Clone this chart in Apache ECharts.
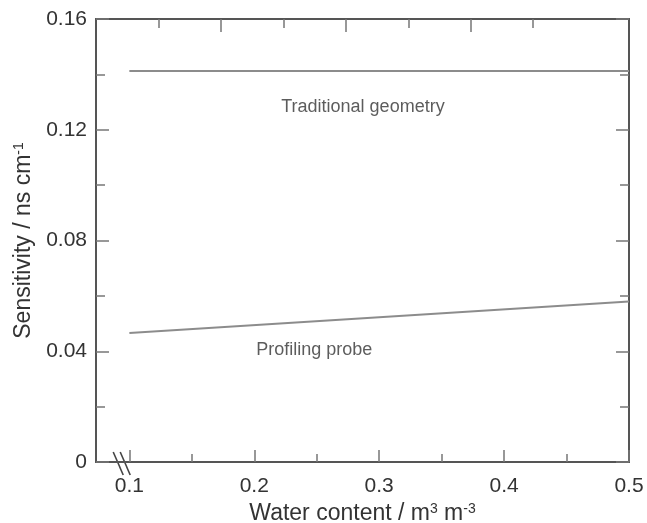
<!DOCTYPE html>
<html>
<head>
<meta charset="utf-8">
<script src="https://cdn.jsdelivr.net/npm/echarts@6/dist/echarts.min.js"></script>
<style>html,body{margin:0;padding:0;background:#fff;}#c{width:647px;height:523px;}</style>
</head>
<body>
<div id="c"></div>
<script>
// Data
const traditionalX = [0.1, 0.5];
const traditionalY = [0.1412, 0.1412];
const profilingX = [0.1, 0.5];
const profilingY = [0.0466, 0.0580];
const xMajorTicks = [0.1, 0.2, 0.3, 0.4, 0.5];
const xMinorTicks = [0.15, 0.25, 0.35, 0.45];
const topMajorTicks = [0.1, 0.2, 0.3];
const topMinorTicks = [0.05, 0.15, 0.25, 0.35];
const annotations = [
  {name: 'Traditional geometry', x: 0.287, y: 0.1282},
  {name: 'Profiling probe', x: 0.248, y: 0.0405}
];
const X_MIN = 0.0733, X_MAX = 0.5;

const chart = echarts.init(document.getElementById('c'), null, {renderer: 'canvas'});
const FONT = 'Liberation Sans, Arial, sans-serif';
const AX = '#555';
const TK = '#777';
const TXT = '#333';

function xAx(opts) {
  return Object.assign({
    type: 'value', min: X_MIN, max: X_MAX, position: 'bottom',
    axisLine: {show: true, onZero: false, lineStyle: {color: AX, width: 2}},
    splitLine: {show: false},
    axisLabel: {show: false},
    axisTick: {show: false}
  }, opts);
}

const option = {
  animation: false,
  backgroundColor: '#fff',
  grid: {left: 96, right: 18, top: 19, bottom: 61, containLabel: false, outerBoundsMode: 'none'},
  xAxis: [
    xAx({
      position: 'bottom',
      axisTick: {show: true, inside: true, length: 12, customValues: xMajorTicks, lineStyle: {color: TK, width: 1.5}},
      axisLabel: {show: true, customValues: xMajorTicks, fontSize: 21, color: TXT, fontFamily: FONT, margin: 14,
        formatter: v => String(+v.toFixed(2))},
      name: '{a|Water content / m}{s|3}{a| m}{s|-3}',
      nameLocation: 'middle', nameGap: 38,
      nameTextStyle: {rich: {
        a: {fontSize: 23, color: TXT, fontFamily: FONT},
        s: {fontSize: 14, color: TXT, fontFamily: FONT, verticalAlign: 'top', padding: [0,0,9,0]}
      }}
    }),
    xAx({
      position: 'bottom',
      axisTick: {show: true, inside: true, length: 8, customValues: xMinorTicks, lineStyle: {color: TK, width: 1.5}}
    }),
    xAx({
      position: 'top', min: 0, max: X_MAX - X_MIN,
      axisTick: {show: true, inside: true, length: 13, customValues: topMajorTicks, lineStyle: {color: TK, width: 1.5}}
    }),
    xAx({
      position: 'top', min: 0, max: X_MAX - X_MIN,
      axisTick: {show: true, inside: true, length: 9, customValues: topMinorTicks, lineStyle: {color: TK, width: 1.5}}
    })
  ],
  yAxis: [
    {
      type: 'value', min: 0, max: 0.16, interval: 0.04, position: 'left',
      axisLine: {show: true, onZero: false, lineStyle: {color: AX, width: 2}},
      axisTick: {show: true, inside: true, length: 13, lineStyle: {color: TK, width: 1.5}},
      minorTick: {show: true, splitNumber: 2, length: 9, lineStyle: {color: TK, width: 1.5}},
      splitLine: {show: false},
      axisLabel: {fontSize: 21, color: TXT, fontFamily: FONT, margin: 9,
        formatter: v => v === 0 ? '0' : v.toFixed(2)},
      name: '{a|Sensitivity / ns cm}{s|-1}',
      nameLocation: 'middle', nameGap: 60, nameRotate: 90,
      nameTextStyle: {rich: {
        a: {fontSize: 23, color: TXT, fontFamily: FONT},
        s: {fontSize: 14, color: TXT, fontFamily: FONT, verticalAlign: 'top', padding: [0,0,9,0]}
      }}
    },
    {
      type: 'value', min: 0, max: 0.16, interval: 0.04, position: 'right',
      axisLine: {show: true, onZero: false, lineStyle: {color: AX, width: 2}},
      axisTick: {show: true, inside: true, length: 13, lineStyle: {color: TK, width: 1.5}},
      minorTick: {show: true, splitNumber: 2, length: 9, lineStyle: {color: TK, width: 1.5}},
      splitLine: {show: false},
      axisLabel: {show: false}
    }
  ],
  series: [
    {
      type: 'line', name: 'Traditional geometry', xAxisIndex: 0, yAxisIndex: 0,
      data: traditionalX.map((x, i) => [x, traditionalY[i]]),
      showSymbol: false, symbol: 'none',
      lineStyle: {color: '#8c8c8c', width: 2}
    },
    {
      type: 'line', name: 'Profiling probe', xAxisIndex: 0, yAxisIndex: 0,
      data: profilingX.map((x, i) => [x, profilingY[i]]),
      showSymbol: false, symbol: 'none',
      lineStyle: {color: '#8c8c8c', width: 2}
    },
    {
      type: 'scatter', xAxisIndex: 0, yAxisIndex: 0, symbolSize: 0, silent: true,
      data: annotations.map(a => ({name: a.name, value: [a.x, a.y]})),
      label: {show: true, position: 'inside', formatter: p => p.name,
        fontSize: 18, color: TXT, fontFamily: FONT}
    }
  ]
};
chart.setOption(option);

// axis break marks
const p = chart.convertToPixel({xAxisIndex: 0, yAxisIndex: 0}, [0.0935, 0]);
chart.setOption({
  graphic: [-3, 4].map(dx => ({
    type: 'line', silent: true,
    shape: {x1: p[0] + dx - 5, y1: p[1] - 10, x2: p[0] + dx + 5, y2: p[1] + 13},
    style: {stroke: '#444', lineWidth: 1.6}
  }))
});
</script>
</body>
</html>
